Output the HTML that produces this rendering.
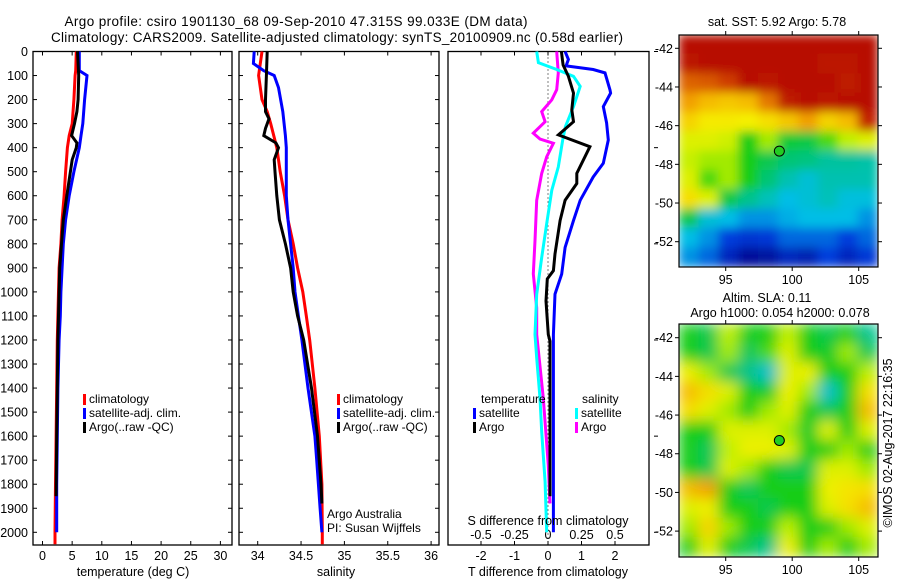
<!DOCTYPE html>
<html><head><meta charset="utf-8">
<style>
html,body{margin:0;padding:0;background:#fff;}
svg{display:block;font-family:"Liberation Sans",Arial,sans-serif;}
text{fill:#000;}
</style></head>
<body>
<svg id="chart" width="900" height="580" viewBox="0 0 900 580" xmlns="http://www.w3.org/2000/svg">
<defs>
<filter id="blur-sst-map" x="0" y="0" width="100%" height="100%"><feGaussianBlur stdDeviation="5" edgeMode="duplicate"/></filter>
<filter id="blur-sla-map" x="0" y="0" width="100%" height="100%"><feGaussianBlur stdDeviation="7" edgeMode="duplicate"/></filter>
<clipPath id="clipMap1"><rect x="679" y="35" width="199" height="232"/></clipPath>
<clipPath id="clipMap2"><rect x="679" y="324" width="199" height="233"/></clipPath>
</defs>
<text x="296" y="26" font-size="13.5" text-anchor="middle" textLength="463">Argo profile: csiro 1901130_68 09-Sep-2010 47.315S 99.033E (DM data)</text>
<text x="337" y="42" font-size="13.5" text-anchor="middle" textLength="572">Climatology: CARS2009. Satellite-adjusted climatology: synTS_20100909.nc (0.58d earlier)</text>
<g id="g"></g>
</svg>
<script>
// depth levels (dbar)
const tDepth = [0,80,100,200,300,350,400,500,600,700,800,900,1000,1100,1200,1400,1600,1800,2000,2050];
const tClim  = [5.7,5.6,5.5,5.3,5.0,4.5,4.2,3.9,3.65,3.3,3.1,2.8,2.7,2.6,2.5,2.4,2.3,2.2,2.1,2.1];
const tSat   = [6.2,6.2,7.5,7.1,6.8,6.5,6.2,5.3,4.5,3.9,3.5,3.3,3.1,3.0,2.8,2.6,2.5,2.4,2.4];
const tArgoDepth = [0,100,200,250,300,350,380,400,450,500,600,700,800,900,1000,1100,1200,1400,1600,1850];
const tArgo  = [5.9,6.1,6.0,5.8,5.4,4.9,5.8,5.7,5.0,4.7,4.1,3.5,3.2,2.9,2.8,2.7,2.6,2.5,2.4,2.3];

const sDepth = [0,100,200,250,300,400,500,600,700,800,900,1000,1100,1200,1400,1600,1800,2000,2050];
const sClim  = [34.05,34.01,34.05,34.11,34.15,34.22,34.26,34.31,34.35,34.41,34.46,34.52,34.56,34.60,34.66,34.71,34.74,34.745,34.745];
const sSatDepth = [0,50,80,100,150,250,350,400,600,700,800,900,1000,1100,1200,1400,1600,1700,1800,1900,2000];
const sSat   = [33.96,33.95,34.07,34.19,34.24,34.29,34.32,34.33,34.33,34.35,34.38,34.41,34.43,34.47,34.51,34.58,34.66,34.68,34.70,34.72,34.74];
const sArgoDepth = [0,100,200,250,280,320,350,380,400,450,500,600,700,800,900,1000,1100,1200,1400,1600,1800,1880];
const sArgo  = [34.11,34.10,34.09,34.09,34.13,34.09,34.07,34.21,34.24,34.19,34.20,34.22,34.25,34.32,34.38,34.41,34.46,34.53,34.62,34.69,34.73,34.74];

const dTSatDepth = [0,33,60,75,89,160,173,229,297,368,465,522,619,703,815,926,1009,1177,1500,2000];
const dTSat  = [0.51,0.61,0.54,1.35,1.70,1.85,1.87,1.65,1.75,1.80,1.65,1.35,0.96,0.76,0.51,0.41,0.21,0.16,0.16,0.16];
const dTArgoDepth = [0,56,103,173,243,292,347,396,507,549,619,703,842,912,946,1038,1177,1205,1500,1850];
const dTArgo = [0.40,0.45,0.61,0.76,0.71,0.76,0.31,1.25,0.86,0.86,0.51,0.36,0.21,0.16,-0.02,-0.06,0.01,0.06,0.06,0.06];
const dSSatDepth = [0,46,75,103,145,229,313,368,480,577,716,857,1010,1177,1275,1442,1582,1790,2000];
const dSSat  = [-0.084,-0.072,0.065,0.19,0.24,0.19,0.13,0.11,0.077,0.028,-0.01,-0.047,-0.084,-0.097,-0.084,-0.06,-0.047,-0.022,-0.01];
const dSArgoDepth = [0,89,159,201,250,292,340,364,382,438,507,619,787,925,1066,1177,1442,1721,1880];
const dSArgo = [0.065,0.077,0.065,0.028,-0.047,-0.022,-0.11,-0.06,0.04,-0.01,-0.047,-0.084,-0.097,-0.11,-0.084,-0.084,-0.035,0.002,0.015];

const depthTicks = [0,100,200,300,400,500,600,700,800,900,1000,1100,1200,1300,1400,1500,1600,1700,1800,1900,2000];
const tTicks = [0,5,10,15,20,25,30];
const sTicks = [34,34.5,35,35.5,36];
const dTTicks = [-2,-1,0,1,2];
const dSTicks = [-0.5,-0.25,0,0.25,0.5];
const latTicks = [-42,-44,-46,-48,-50,-52];
const lonTicks = [95,100,105];

// map grids (normalized colour index, rows north->south, cols west->east)
const sstGrid = [
[0.95,0.95,0.95,0.95,0.95,0.95,0.95,0.95,0.95,0.95],
[0.93,0.95,0.95,0.95,0.95,0.95,0.95,0.93,0.93,0.95],
[0.82,0.83,0.86,0.95,0.93,0.95,0.95,0.95,0.92,0.95],
[0.76,0.72,0.7,0.72,0.8,0.92,0.95,0.93,0.95,0.95],
[0.68,0.64,0.64,0.63,0.66,0.7,0.76,0.68,0.72,0.9],
[0.6,0.6,0.58,0.5,0.55,0.47,0.46,0.52,0.56,0.6],
[0.57,0.55,0.55,0.5,0.45,0.42,0.41,0.38,0.38,0.37],
[0.6,0.52,0.55,0.5,0.42,0.36,0.32,0.36,0.36,0.36],
[0.66,0.6,0.46,0.4,0.35,0.3,0.32,0.35,0.31,0.31],
[0.45,0.32,0.3,0.25,0.25,0.28,0.3,0.3,0.3,0.25],
[0.3,0.25,0.15,0.13,0.14,0.2,0.2,0.2,0.15,0.2],
[0.25,0.2,0.1,0.04,0.05,0.1,0.08,0.15,0.1,0.14]];
const slaGrid = [
[0.5,0.45,0.56,0.5,0.5,0.56,0.5,0.45,0.5,0.4],
[0.5,0.45,0.55,0.44,0.52,0.6,0.5,0.48,0.55,0.45],
[0.62,0.55,0.45,0.4,0.33,0.6,0.62,0.5,0.5,0.56],
[0.72,0.66,0.6,0.5,0.48,0.62,0.55,0.33,0.5,0.66],
[0.66,0.6,0.55,0.5,0.55,0.6,0.5,0.45,0.5,0.72],
[0.5,0.5,0.6,0.6,0.6,0.55,0.48,0.6,0.5,0.6],
[0.5,0.44,0.56,0.62,0.62,0.6,0.5,0.5,0.55,0.5],
[0.5,0.45,0.6,0.55,0.5,0.45,0.45,0.6,0.6,0.55],
[0.72,0.76,0.5,0.44,0.5,0.5,0.5,0.62,0.65,0.66],
[0.6,0.62,0.5,0.5,0.45,0.5,0.5,0.6,0.66,0.72],
[0.55,0.68,0.55,0.5,0.5,0.56,0.5,0.5,0.55,0.6],
[0.5,0.6,0.5,0.45,0.4,0.62,0.5,0.55,0.5,0.55]];

const NS = "http://www.w3.org/2000/svg";
const G = document.getElementById('g');
function mk(tag, attrs, parent){
  const e = document.createElementNS(NS, tag);
  for (const k in attrs) e.setAttribute(k, attrs[k]);
  (parent||G).appendChild(e);
  return e;
}
// axis functions
const PT = 51.5, PB = 545;
const yD = d => PT + 0.2404*d;
const xT = v => 42.5 + 5.93*v;
const xS = s => 257.7 + 86.7*(s-34);
const xDT = v => 548 + 33.5*v;
const xDS = v => 548 + 134*v;

const panels = [[33,232],[239,439],[448,649]];
panels.forEach((p,i)=>{
  const r = mk('rect',{x:p[0],y:PT,width:p[1]-p[0],height:PB-PT,fill:'none',stroke:'#000','stroke-width':1.3});
  
  
  depthTicks.forEach(d=>{
    if (i<2){
      mk('line',{x1:p[0],x2:p[0]+4,y1:yD(d),y2:yD(d),stroke:'#000'});
      mk('line',{x1:p[1]-4,x2:p[1],y1:yD(d),y2:yD(d),stroke:'#000'});
    } else if (d%400===0){
      mk('line',{x1:p[1]+5,x2:p[1]+9,y1:yD(d),y2:yD(d),stroke:'#000'});
    }
  });
});
// depth labels
depthTicks.forEach(d=>{
  const t = mk('text',{x:28,y:yD(d)+4.5,'font-size':12.5,'text-anchor':'end'});
  t.textContent = d;
  
  
});
function xAxis(ticks, fx, ylab, panel){
  ticks.forEach(v=>{
    const x = fx(v);
    mk('line',{x1:x,x2:x,y1:PT,y2:PT+4,stroke:'#000'});
    mk('line',{x1:x,x2:x,y1:PB-4,y2:PB,stroke:'#000'});
    const t = mk('text',{x:x,y:ylab,'font-size':12.5,'text-anchor':'middle'});
    t.textContent = v;
    
    
  });
}
xAxis(tTicks, xT, 560, 'temperature');
xAxis(sTicks, xS, 560, 'salinity');
xAxis(dTTicks, xDT, 560, 'tdiff');
dSTicks.forEach(v=>{
  const t = mk('text',{x:xDS(v),y:539,'font-size':12.5,'text-anchor':'middle'});
  t.textContent = String(v);
  
  
});
// zero dotted line
const zl = mk('line',{x1:xDT(0),x2:xDT(0),y1:PT+2,y2:PB,stroke:'#000','stroke-width':1,'stroke-dasharray':'1,3'});



function series(depths, vals, fx, color, name){
  const pts = vals.map((v,i)=>fx(v).toFixed(1)+','+yD(depths[i]).toFixed(1)).join(' ');
  const pl = mk('polyline',{points:pts,fill:'none',stroke:color,'stroke-width':3,'stroke-linejoin':'miter'});
  
  
}
series(tDepth.slice(0,tClim.length), tClim, xT, '#ff0000', 'temp-climatology-line');
series(tDepth.slice(0,tSat.length), tSat, xT, '#0000ff', 'temp-satellite-line');
series(tArgoDepth, tArgo, xT, '#000000', 'temp-argo-line');
series(sDepth, sClim, xS, '#ff0000', 'sal-climatology-line');
series(sSatDepth, sSat, xS, '#0000ff', 'sal-satellite-line');
series(sArgoDepth, sArgo, xS, '#000000', 'sal-argo-line');
series(dSArgoDepth, dSArgo, xDS, '#ff00ff', 'sdiff-argo-line');
series(dSSatDepth, dSSat, xDS, '#00ffff', 'sdiff-satellite-line');
series(dTSatDepth, dTSat, xDT, '#0000ff', 'tdiff-satellite-line');
series(dTArgoDepth, dTArgo, xDT, '#000000', 'tdiff-argo-line');

function label(x,y,txt,name,opts){
  const t = mk('text',Object.assign({x:x,y:y,'font-size':12.5},opts||{}));
  t.textContent = txt;
  
  
  return t;
}
function legendEntry(x,y,color,txt,name){
  mk('rect',{x:x,y:y-9,width:3,height:11,fill:color});
  label(x+6,y,txt,name,{'font-size':12});
}
[['climatology','#ff0000'],['satellite-adj. clim.','#0000ff'],['Argo(..raw -QC)','#000000']].forEach((e,i)=>{
  legendEntry(83,403+14*i,e[1],e[0],'temp-legend-entry');
  legendEntry(337,403+14*i,e[1],e[0],'sal-legend-entry');
});
label(481,403,'temperature','legend-temperature-heading',{'font-size':12});
label(582,403,'salinity','legend-salinity-heading',{'font-size':12});
legendEntry(473,417,'#0000ff','satellite','legend-tsat');
legendEntry(473,431,'#000000','Argo','legend-targo');
legendEntry(575,417,'#00ffff','satellite','legend-ssat');
legendEntry(575,431,'#ff00ff','Argo','legend-sargo');
label(327,518,'Argo Australia','argo-australia-credit',{'font-size':12});
label(327,532,'PI: Susan Wijffels','pi-credit',{'font-size':12});
label(548,525,'S difference from climatology','sdiff-axis-title',{'text-anchor':'middle'});
label(548,576,'T difference from climatology','tdiff-axis-title',{'text-anchor':'middle'});
label(133,576,'temperature (deg C)','temperature-axis-title',{'text-anchor':'middle'});
label(336,576,'salinity','salinity-axis-title',{'text-anchor':'middle'});

// colormap
const stops = [[0,[0,0,128]],[0.15,[0,60,220]],[0.3,[0,190,230]],[0.4,[0,195,140]],[0.5,[20,205,20]],[0.56,[190,240,0]],[0.63,[245,240,0]],[0.75,[245,170,0]],[0.88,[200,40,0]],[1,[170,0,0]]];
function cmap(v){
  for (let i=1;i<stops.length;i++){
    if (v<=stops[i][0]){
      const a=stops[i-1],b=stops[i],f=(v-a[0])/(b[0]-a[0]);
      const c=a[1].map((q,k)=>Math.round(q+(b[1][k]-q)*f));
      return 'rgb('+c.join(',')+')';
    }
  }
  return 'rgb(170,0,0)';
}
const MX0=679, MX1=878, lonX = lon => 725.7 + 13.3*(lon-95);
function drawMap(grid, top, bot, lat42y, clip, name){
  const latY = lat => lat42y + 19.34*(-42-lat);
  const gm = mk('g',{'clip-path':'url(#'+clip+')'});
  
  
  const gb = mk('g',{filter:'url(#blur-'+name+')'}, gm);
  const rows=grid.length, cols=grid[0].length;
  const cw=(MX1-MX0)/cols, ch=(bot-top)/rows;
  grid.forEach((row,r)=>row.forEach((v,c)=>{
    mk('rect',{x:MX0+c*cw-0.5,y:top+r*ch-0.5,width:cw+1,height:ch+1,fill:cmap(v)},gb);
  }));
  const fr = mk('rect',{x:MX0,y:top,width:MX1-MX0,height:bot-top,fill:'none',stroke:'#000','stroke-width':1.2});
  
  
  latTicks.forEach(l=>{
    const y=latY(l);
    mk('line',{x1:MX0-4,x2:MX0,y1:y,y2:y,stroke:'#000'});
    mk('line',{x1:MX1,x2:MX1+4,y1:y,y2:y,stroke:'#000'});
    label(MX0-6,y+4.5,String(l),name+'-lat-label',{'text-anchor':'end'});
  });
  lonTicks.forEach(l=>{
    const x=lonX(l);
    mk('line',{x1:x,x2:x,y1:top-4,y2:top,stroke:'#000'});
    mk('line',{x1:x,x2:x,y1:bot,y2:bot+4,stroke:'#000'});
    label(x,bot+17,String(l),name+'-lon-label',{'text-anchor':'middle'});
  });
  const m = mk('circle',{cx:lonX(99.033),cy:latY(-47.315),r:5,fill:'#22cc22',stroke:'#000','stroke-width':1});
  
  
}
drawMap(sstGrid,35,267,48.3,'clipMap1','sst-map');
drawMap(slaGrid,324,557,337.7,'clipMap2','sla-map');
label(777,26,'sat. SST: 5.92 Argo: 5.78','sst-map-title',{'text-anchor':'middle'});
label(767,302,'Altim. SLA: 0.11','sla-map-title',{'text-anchor':'middle'});
label(780,317,'Argo h1000: 0.054 h2000: 0.078','sla-map-subtitle',{'text-anchor':'middle'});
label(0,0,'©IMOS 02-Aug-2017 22:16:35','timestamp',{'text-anchor':'middle',transform:'translate(892,443) rotate(-90)'});
</script>
</body></html>
